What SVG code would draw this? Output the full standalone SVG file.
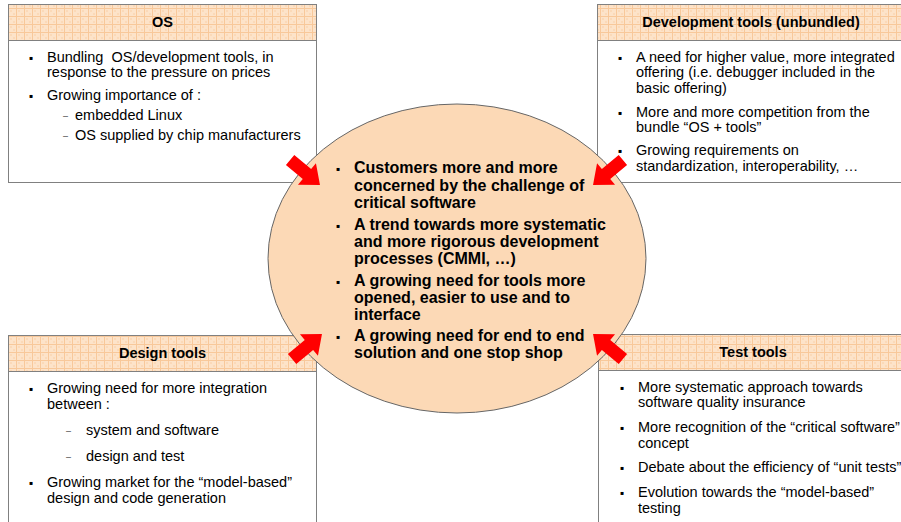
<svg xmlns="http://www.w3.org/2000/svg" width="901" height="522" viewBox="0 0 901 522">
<style>
  .box { fill: #FFFFFF; stroke: #808080; stroke-width: 1; }
  .hdr { fill: url(#hatch); stroke: #808080; stroke-width: 1; }
  .title { font-family: "Liberation Sans", Arial, sans-serif; font-size: 14.5px; font-weight: bold; fill: #000; text-anchor: middle; }
  .txt { font-family: "Liberation Sans", Arial, sans-serif; font-size: 14.5px; fill: #000; }
  .big { font-family: "Liberation Sans", Arial, sans-serif; font-size: 16px; font-weight: bold; fill: #000; }
  .bul { font-family: "DejaVu Sans", sans-serif; font-size: 6px; fill: #000; }
  .dash { font-family: "Liberation Sans", Arial, sans-serif; font-size: 9px; fill: #404040; }
  .arrow { fill: #FF0000; }
</style>
<defs>
  <pattern id="hatch" width="8" height="8" patternUnits="userSpaceOnUse">
    <rect width="8" height="8" fill="#FDE3C9"/>
    <rect x="2" y="2" width="2" height="2" fill="#FBD9B8"/>
    <rect x="5" y="5" width="2" height="2" fill="#FBD9B8"/>
    <path d="M0 0.5H8M0.5 0V8" stroke="#F8C89A" stroke-width="1"/>
  </pattern>
  <polygon id="arr" points="0,-6.5 22,-6.5 22,-14 39,0 22,14 22,6.5 0,6.5"/>
</defs>

<g id="os">
  <rect class="box" x="8.5" y="4.5" width="308" height="178"/>
  <rect class="hdr" x="8.5" y="4.5" width="308" height="36"/>
  <text class="title" x="162.5" y="27">OS</text>
  <text class="bul" x="29" y="60">▪</text>
  <text class="txt" x="47" y="62" xml:space="preserve">Bundling  OS/development tools, in</text>
  <text class="txt" x="47" y="77">response to the pressure on prices</text>
  <text class="bul" x="29" y="98">▪</text>
  <text class="txt" x="47" y="100">Growing importance of :</text>
  <text class="dash" x="63" y="119">–</text>
  <text class="txt" x="75" y="120">embedded Linux</text>
  <text class="dash" x="63" y="139">–</text>
  <text class="txt" x="75" y="140">OS supplied by chip manufacturers</text>
</g>

<g id="devtools">
  <rect class="box" x="597.5" y="4.5" width="312" height="178"/>
  <rect class="hdr" x="597.5" y="4.5" width="312" height="36"/>
  <text class="title" x="751" y="27">Development tools (unbundled)</text>
  <text class="bul" x="618" y="60">▪</text>
  <text class="txt" x="636" y="62">A need for higher value, more integrated</text>
  <text class="txt" x="636" y="77">offering (i.e. debugger included in the</text>
  <text class="txt" x="636" y="93">basic offering)</text>
  <text class="bul" x="618" y="115">▪</text>
  <text class="txt" x="636" y="117">More and more competition from the</text>
  <text class="txt" x="636" y="132">bundle “OS + tools”</text>
  <text class="bul" x="618" y="153">▪</text>
  <text class="txt" x="636" y="155">Growing requirements on</text>
  <text class="txt" x="636" y="171">standardization, interoperability, …</text>
</g>

<g id="designtools">
  <rect class="box" x="8.5" y="335.5" width="308" height="200"/>
  <rect class="hdr" x="8.5" y="335.5" width="308" height="36"/>
  <text class="title" x="162.5" y="358">Design tools</text>
  <text class="bul" x="29" y="391">▪</text>
  <text class="txt" x="47" y="393">Growing need for more integration</text>
  <text class="txt" x="47" y="409">between :</text>
  <text class="dash" x="66" y="434">–</text>
  <text class="txt" x="86" y="435">system and software</text>
  <text class="dash" x="66" y="460">–</text>
  <text class="txt" x="86" y="461">design and test</text>
  <text class="bul" x="29" y="485">▪</text>
  <text class="txt" x="47" y="487">Growing market for the “model-based”</text>
  <text class="txt" x="47" y="503">design and code generation</text>
</g>

<g id="testtools">
  <rect class="box" x="598.5" y="334.5" width="312" height="200"/>
  <rect class="hdr" x="598.5" y="334.5" width="312" height="36"/>
  <text class="title" x="753" y="357">Test tools</text>
  <text class="bul" x="620" y="390">▪</text>
  <text class="txt" x="638" y="392">More systematic approach towards</text>
  <text class="txt" x="638" y="407">software quality insurance</text>
  <text class="bul" x="620" y="430">▪</text>
  <text class="txt" x="638" y="432">More recognition of the “critical software”</text>
  <text class="txt" x="638" y="448">concept</text>
  <text class="bul" x="620" y="470">▪</text>
  <text class="txt" x="638" y="472">Debate about the efficiency of “unit tests”</text>
  <text class="bul" x="620" y="495">▪</text>
  <text class="txt" x="638" y="497">Evolution towards the “model-based”</text>
  <text class="txt" x="638" y="513">testing</text>
</g>

<g id="center">
  <ellipse cx="457" cy="258.5" rx="189" ry="154.5" fill="#FCD9B6" stroke="#666666" stroke-width="1"/>
  <text class="bul" x="336" y="171">▪</text>
  <text class="big" x="354" y="173">Customers more and more</text>
  <text class="big" x="354" y="191">concerned by the challenge of</text>
  <text class="big" x="354" y="208">critical software</text>
  <text class="bul" x="336" y="228">▪</text>
  <text class="big" x="354" y="230">A trend towards more systematic</text>
  <text class="big" x="354" y="247">and more rigorous development</text>
  <text class="big" x="354" y="264">processes (CMMI, …)</text>
  <text class="bul" x="336" y="284">▪</text>
  <text class="big" x="354" y="286">A growing need for tools more</text>
  <text class="big" x="354" y="303">opened, easier to use and to</text>
  <text class="big" x="354" y="320">interface</text>
  <text class="bul" x="336" y="339">▪</text>
  <text class="big" x="354" y="341">A growing need for end to end</text>
  <text class="big" x="354" y="358">solution and one stop shop</text>
</g>

<g id="connectors" class="arrow">
  <use href="#arr" transform="translate(290.1 159.9) rotate(40)"/>
  <use href="#arr" transform="translate(622.9 159.9) rotate(140)"/>
  <use href="#arr" transform="translate(292.1 359.1) rotate(-40)"/>
  <use href="#arr" transform="translate(622.9 359.1) rotate(220)"/>
</g>
</svg>
